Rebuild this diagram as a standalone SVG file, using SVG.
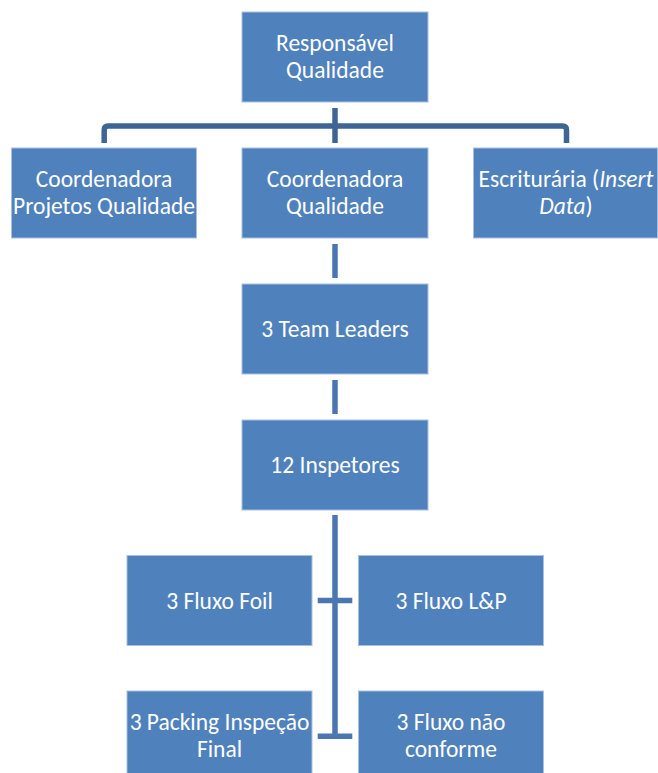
<svg xmlns="http://www.w3.org/2000/svg" width="658" height="773" viewBox="0 0 658 773">
  <style>
    .box { fill: #4F81BD; stroke: #A9C0E0; stroke-width: 1; }
    .lbl { fill: #FFFFFF; font-family: Calibri, Carlito, "Liberation Sans", sans-serif; font-size: 23.5px; text-anchor: middle; }
    .it { font-style: italic; }
    .top { fill: none; stroke: #3E6695; stroke-width: 5.5; stroke-linejoin: round; }
    .con { fill: none; stroke: #4A77B2; stroke-width: 5.5; }
  </style>
  <rect width="658" height="773" fill="#FFFFFF"/>

  <g id="connectors">
    <path class="top" d="M335 108 V143"/>
    <path class="top" d="M104.2 143 V130 Q104.2 126 108.2 126 H562.5 Q566.5 126 566.5 130 V143"/>
    <path class="con" d="M335 244 V278"/>
    <path class="con" d="M335 380 V414"/>
    <path class="con" d="M335 515 V739"/>
    <path class="con" d="M317.7 600.5 H352.3"/>
    <path class="con" d="M317.7 736.2 H352.3"/>
  </g>

  <g id="responsavel-qualidade">
    <rect class="box" x="242" y="12" width="186" height="90"/>
    <text class="lbl" x="335" y="51">Responsável</text>
    <text class="lbl" x="335" y="78">Qualidade</text>
  </g>

  <g id="coordenadora-projetos">
    <rect class="box" x="11.5" y="148" width="185" height="90"/>
    <text class="lbl" x="104" y="187">Coordenadora</text>
    <text class="lbl" x="104" y="214">Projetos Qualidade</text>
  </g>

  <g id="coordenadora-qualidade">
    <rect class="box" x="242" y="148" width="186" height="90"/>
    <text class="lbl" x="335" y="187">Coordenadora</text>
    <text class="lbl" x="335" y="214">Qualidade</text>
  </g>

  <g id="escrituraria">
    <rect class="box" x="473.5" y="148" width="184" height="90"/>
    <text class="lbl" x="566" y="187">Escriturária (<tspan class="it">Insert</tspan></text>
    <text class="lbl" x="566" y="214"><tspan class="it">Data</tspan>)</text>
  </g>

  <g id="team-leaders">
    <rect class="box" x="242" y="284" width="186" height="90"/>
    <text class="lbl" x="335" y="337">3 Team Leaders</text>
  </g>

  <g id="inspetores">
    <rect class="box" x="242" y="420" width="186" height="90"/>
    <text class="lbl" x="335" y="473">12 Inspetores</text>
  </g>

  <g id="fluxo-foil">
    <rect class="box" x="127" y="555.5" width="185" height="90"/>
    <text class="lbl" x="219.5" y="608.5">3 Fluxo Foil</text>
  </g>

  <g id="fluxo-lp">
    <rect class="box" x="358.5" y="555.5" width="185" height="90"/>
    <text class="lbl" x="451" y="608.5">3 Fluxo L&amp;P</text>
  </g>

  <g id="packing-inspecao-final">
    <rect class="box" x="127" y="691" width="185" height="90"/>
    <text class="lbl" x="219.5" y="730">3 Packing Inspeção</text>
    <text class="lbl" x="219.5" y="757">Final</text>
  </g>

  <g id="fluxo-nao-conforme">
    <rect class="box" x="358.5" y="691" width="185" height="90"/>
    <text class="lbl" x="451" y="730">3 Fluxo não</text>
    <text class="lbl" x="451" y="757">conforme</text>
  </g>
</svg>
